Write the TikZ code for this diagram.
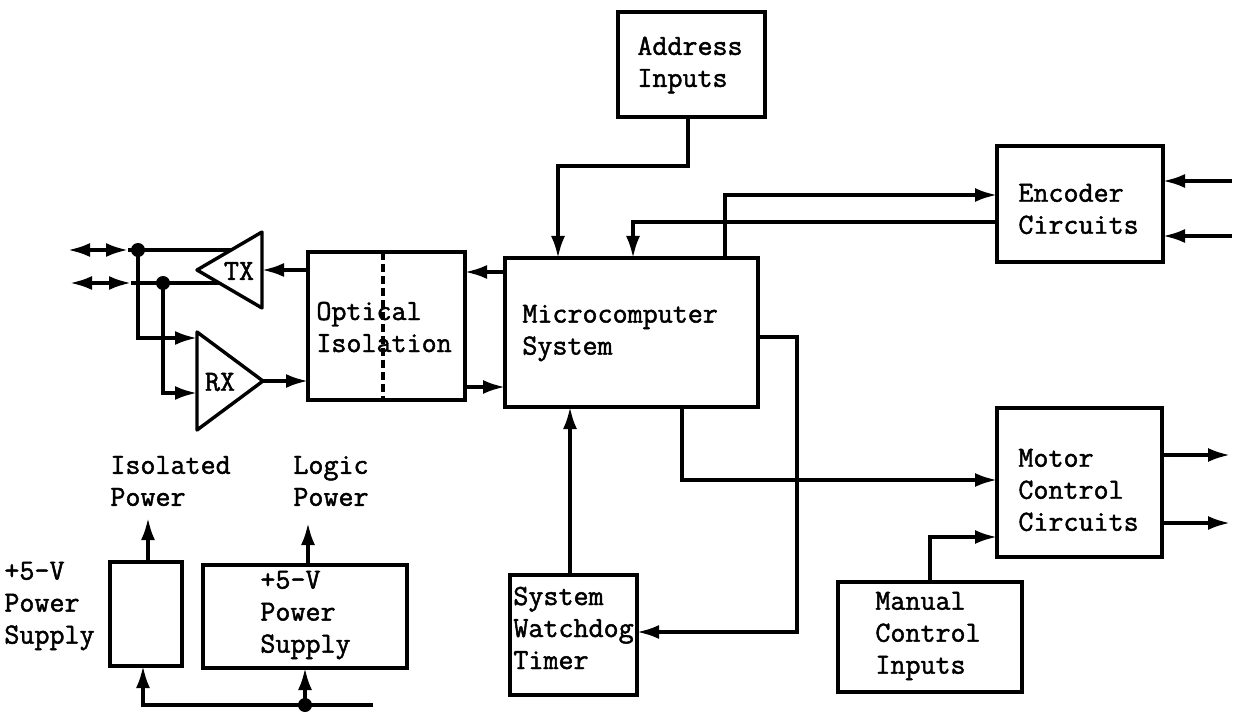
\documentclass[tikz,border=0pt]{standalone}
\usepackage{fontspec}
\newfontfamily\twfont{Latin Modern Mono}[FakeBold=1.6]
\usetikzlibrary{arrows.meta,calc,fit}
\begin{document}
\begin{tikzpicture}[x=0.5pt,y=-0.5pt,
  lw/.style={line width=1.7pt},
  box/.style={draw,line width=1.7pt,inner sep=0pt,outer sep=0pt,rectangle},
  lbl/.style={font=\twfont\fontsize{14.6}{16}\selectfont,align=left,inner sep=0pt,anchor=west},
  arr/.style={line width=1.7pt,-{Latex[length=11pt,width=7pt]}},
  dbl/.style={line width=1.7pt,{Latex[length=11pt,width=7pt]}-{Latex[length=11pt,width=7pt]}},
  jdot/.style={fill,circle,inner sep=0pt,minimum size=7pt}]
\fill[white] (0,0) rectangle (1236,716);
\useasboundingbox (0,0) rectangle (1236,716);

% boxes
\node[box,fit={(618,12) (765,117)}] (addr) {};
\node[box,fit={(997,146) (1163,262)}] (enc) {};
\node[box,fit={(505,258) (758,407)}] (micro) {};
\node[box,fit={(308,252) (465,400)}] (opt) {};
\node[box,fit={(997,408) (1162,557)}] (motor) {};
\node[box,fit={(838,582) (1022,692)}] (manual) {};
\node[box,fit={(510,575) (637,695)}] (wdog) {};
\node[box,fit={(110,562) (182,666)}] (iso) {};
\node[box,fit={(203,565) (407,668)}] (logic) {};

% labels
\node[lbl] (addrT) at (637,65) {Address\\Inputs};
\node[lbl] (encT) at (1018,209) {Encoder\\Circuits};
\node[lbl] (microT) at (522,333) {Microcomputer\\System};
\node[lbl] (optT) at (316,327) {Optical\\Isolation};
\node[lbl] (motorT) at (1018,490) {Motor\\Control\\Circuits};
\node[lbl] (manualT) at (875,636) {Manual\\Control\\Inputs};
\node[lbl] (wdogT) at (513,628) {System\\Watchdog\\Timer};
\node[lbl] (isoT) at (110,481) {Isolated\\Power};
\node[lbl] (logicT) at (293,481) {Logic\\Power};
\node[lbl] (ps1T) at (4,606) {+5-V\\Power\\Supply};
\node[lbl] (ps2T) at (260,615) {+5-V\\Power\\Supply};

% optical isolation barrier
\draw[line width=1.7pt,dash pattern=on 4pt off 2pt] (opt.north -| 383,0) -- (opt.south -| 383,0);

% TX and RX amplifiers
\coordinate (txA) at (197,270);
\coordinate (txT) at (262,232);
\coordinate (txB) at (262,308);
\draw[lw,line join=round] (txA) -- (txT) -- (txB) -- cycle;
\node[lbl,anchor=center] (txL) at (239,271) {TX};
\coordinate (rxT) at (197,332);
\coordinate (rxB) at (197,430);
\coordinate (rxA) at (263,381);
\draw[lw,line join=round] (rxT) -- (rxA) -- (rxB) -- cycle;
\node[lbl,anchor=center] (rxL) at (220,382) {RX};

% line junctions
\coordinate (tx1) at (231,250);
\coordinate (tx2) at (219,283);
\node[jdot] (d1) at (138,250) {};
\node[jdot] (d2) at (163,283) {};
\coordinate (L1) at (68,250);
\coordinate (M1) at (128,250);
\coordinate (L2) at (70,283);
\coordinate (M2) at (131,283);
\draw[lw] (tx1) -- (M1);
\draw[lw] (tx2) -- (M2);
\draw[dbl] (L1) -- (M1);
\draw[dbl] (L2) -- (M2);
\coordinate (rx1) at (197,338);
\coordinate (rx2) at (197,393);
\draw[arr] (d1.center) |- (rx1);
\draw[arr] (d2.center) |- (rx2);
\draw[arr] (opt.west |- txA) -- (txB |- txA);
\draw[arr] (rxA) -- (opt.west |- rxA);

% optical <-> micro
\draw[arr] (micro.west |- 0,272) -- (opt.east |- 0,272);
\draw[arr] (opt.east |- 0,387) -- (micro.west |- 0,387);

% address / encoder
\draw[arr] (addr.south -| 688,0) -- (688,166) -- (558,166) -- (micro.north -| 558,0);
\draw[arr] (enc.west |- 0,222) -- (633,222) -- (micro.north -| 633,0);
\draw[arr] (micro.north -| 725,0) -- (725,195) -- (enc.west |- 0,195);
\coordinate (e1) at (1232,181);
\coordinate (e2) at (1232,236);
\draw[arr] (e1) -- (enc.east |- e1);
\draw[arr] (e2) -- (enc.east |- e2);

% micro <-> watchdog, motor
\draw[arr] (micro.east |- 0,337) -- (797,337) -- (797,632) -- (wdog.east |- 0,632);
\draw[arr] (wdog.north -| 570,0) -- (micro.south -| 570,0);
\draw[arr] (micro.south -| 682,0) -- (682,480) -- (motor.west |- 0,480);
\draw[arr] (manual.north -| 930,0) -- (930,537) -- (motor.west |- 0,537);
\coordinate (m1) at (1230,455);
\coordinate (m2) at (1230,523);
\draw[arr] (motor.east |- m1) -- (m1);
\draw[arr] (motor.east |- m2) -- (m2);

% power supplies
\coordinate (isoOut) at (148,518);
\coordinate (logOut) at (308,523);
\draw[arr] (iso.north -| isoOut) -- (isoOut);
\draw[arr] (logic.north -| logOut) -- (logOut);
\coordinate (pin) at (373,705);
\node[jdot] (d3) at (305,705) {};
\draw[arr] (pin) -- (143,705) -- (iso.south -| 143,0);
\draw[arr] (d3.center) -- (logic.south -| d3);
\end{tikzpicture}
\end{document}
